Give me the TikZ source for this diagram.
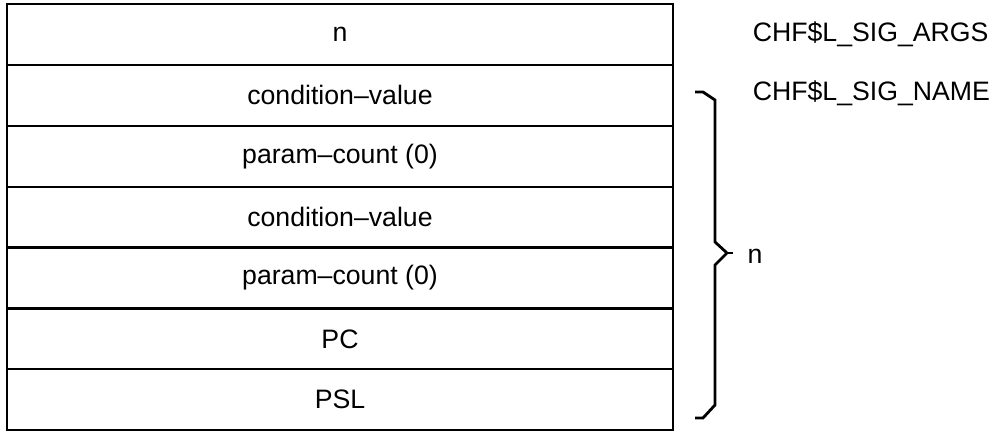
\documentclass[tikz,border=0pt]{standalone}
\usepackage{fontspec}
\setmainfont{Liberation Sans}
\usetikzlibrary{positioning}
\tikzset{
  every picture/.style={line width=1.7pt},
  cell/.style={draw, minimum width=499.5pt, minimum height=45.65pt, outer sep=0pt, inner sep=0pt, font=\fontsize{20}{24}\selectfont},
  field/.style={inner sep=0pt, font=\fontsize{20}{24}\selectfont},
  brace/.style={line width=2.1pt, line join=miter},
}

\begin{document}
\begin{tikzpicture}[x=0.75pt, y=-0.75pt]
  \useasboundingbox (0,0) rectangle (997,431);
  \node[cell] (r1) at (340,34.5) {n};
  \node[cell, below=0pt of r1] (r2) {condition--value};
  \node[cell, below=0pt of r2] (r3) {param--count (0)};
  \node[cell, below=0pt of r3] (r4) {condition--value};
  \node[cell, below=0pt of r4] (r5) {param--count (0)};
  \node[cell, below=0pt of r5] (r6) {PC};
  \node[cell, below=0pt of r6] (r7) {PSL};
  \node[field, right=59pt of r1] (args) {CHF\$L\_SIG\_ARGS};
  \node[field, anchor=west] (name) at (args.west |- 0,93) {CHF\$L\_SIG\_NAME};
  % brace over the signal vector
  \draw[brace] (695,92) -- (703,92) -- (715,100) -- (715,242) -- (727,253)
    -- (715,265) -- (715,405) -- (703,418) -- (695,418);
  \draw[brace] (727,253) -- (733,253);
  \node[field] (count) at (755,256) {n};
\end{tikzpicture}
\end{document}
